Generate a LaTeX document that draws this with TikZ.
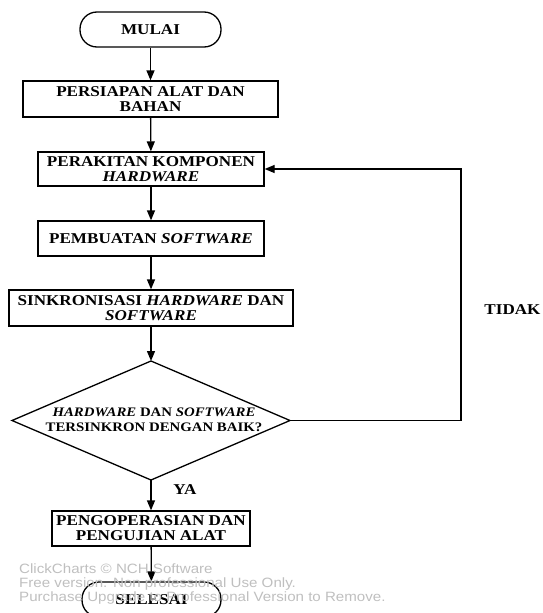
\documentclass[tikz,border=0pt]{standalone}
\usepackage{fontspec}
\setmainfont{Liberation Serif}[FakeStretch=1.14]
\newfontfamily\wmfont{Liberation Sans}[FakeStretch=1.12]
\usetikzlibrary{arrows.meta}
\begin{document}
\begin{tikzpicture}[x=1pt,y=-1pt,
  every node/.style={font=\fontsize{15}{15}\selectfont\bfseries, align=center, inner sep=0pt},
  procbox/.style={draw, line width=1.3pt, rectangle},
  termbox/.style={draw, line width=1.3pt, rectangle, rounded corners=17pt, minimum width=141pt, minimum height=35pt},
  dectext/.style={font=\fontsize{13}{15}\selectfont\bfseries},
  decline/.style={line width=1.3pt, line join=miter},
  flow/.style={line width=1.3pt, -{Triangle[length=10pt,width=8pt]}},
  wm/.style={font=\wmfont\fontsize{13.5}{14}\selectfont, text=black!25, align=left, anchor=north west}
]
\useasboundingbox (0,0) rectangle (542,613);
\node[termbox] (start) at (150.5,29.5) {MULAI};
\node[procbox, minimum width=255pt, minimum height=36pt] (prep) at (150.5,99) {PERSIAPAN ALAT DAN\\BAHAN};
\node[procbox, minimum width=226pt, minimum height=34pt] (asm) at (151,169) {PERAKITAN KOMPONEN\\\textit{HARDWARE}};
\node[procbox, minimum width=226pt, minimum height=35pt] (sw) at (151,238.5) {PEMBUATAN \textit{SOFTWARE}};
\node[procbox, minimum width=284pt, minimum height=36pt] (sync) at (151,308) {SINKRONISASI \textit{HARDWARE} DAN\\\textit{SOFTWARE}};
% decision diamond
\coordinate (dtop) at (151,361);
\coordinate (dright) at (290,420.5);
\coordinate (dbot) at (151,480);
\coordinate (dleft) at (12,420.5);
\draw[decline] (dtop) -- (dright) -- (dbot) -- (dleft) -- cycle;
\node[dectext] (dec) at (154,420) {\textit{HARDWARE} DAN \textit{SOFTWARE}\\TERSINKRON DENGAN BAIK?};
\node[procbox, minimum width=198pt, minimum height=35pt] (test) at (151,528.5) {PENGOPERASIAN DAN\\PENGUJIAN ALAT};
\node[termbox, minimum width=139pt] (stop) at (151.5,599.5) {SELESAI};
\coordinate (c1) at (461,420.5);
\coordinate (c2) at (461,169);
\draw[flow] (start) -- (prep);
\draw[flow] (prep) -- (asm);
\draw[flow] (asm) -- (sw);
\draw[flow] (sw) -- (sync);
\draw[flow] (sync) -- (dtop);
\draw[flow] (dbot) -- (test);
\draw[flow] (test) -- (stop);
\draw[flow] (dright) -- (c1) -- (c2) -- (asm.east);
\node (tidak) at (512.5,310) {TIDAK};
\node (ya) at (185,490) {YA};
\node[wm] (wmark) at (19,564) {ClickCharts © NCH Software\\Free version. Non professional Use Only.\\Purchase Upgrade to Professional Version to Remove.};
\end{tikzpicture}
\end{document}
